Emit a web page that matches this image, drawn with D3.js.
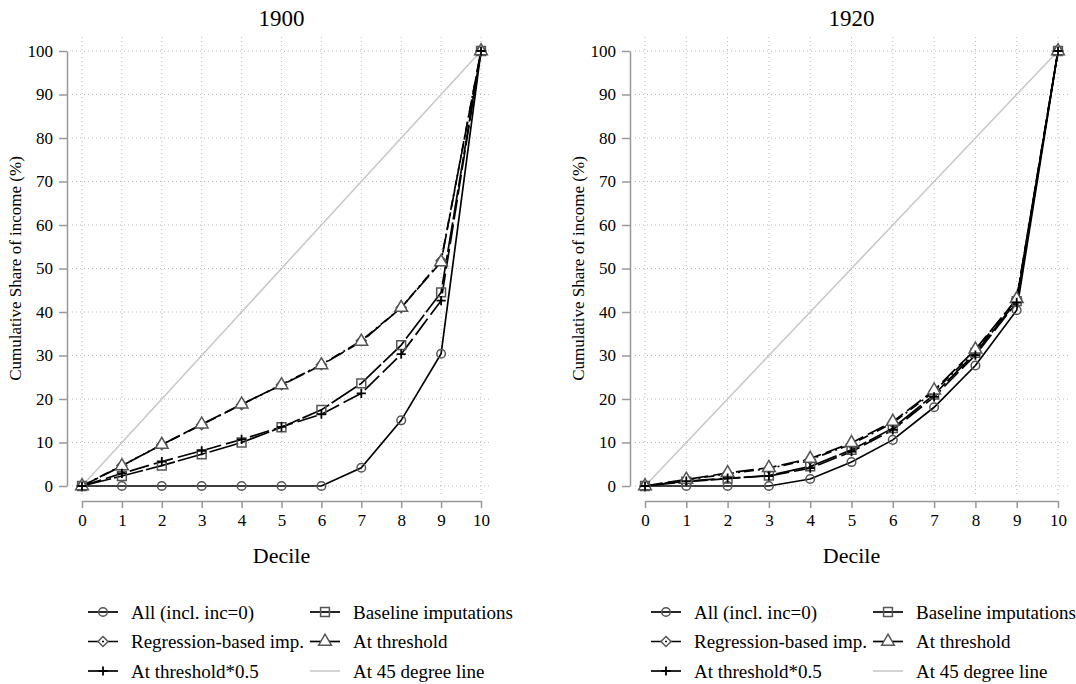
<!DOCTYPE html>
<html>
<head>
<meta charset="utf-8">
<script src="https://cdn.jsdelivr.net/npm/d3@7"></script>
<style>
  body { margin: 0; background: #fff; font-family: 'Liberation Serif'; }
</style>
</head>
<body>
<svg id="chart" width="1076" height="684"></svg>
<script>
// categories and ticks
const deciles = [0, 1, 2, 3, 4, 5, 6, 7, 8, 9, 10];
const yTicks = [0, 10, 20, 30, 40, 50, 60, 70, 80, 90, 100];
const seriesNames = ["All (incl. inc=0)", "Baseline imputations", "Regression-based imp.",
                     "At threshold", "At threshold*0.5", "At 45 degree line"];

// cumulative share of income (%)
const all1900  = [0, 0, 0, 0, 0, 0, 0, 4.2, 15.1, 30.4, 100];
const base1900 = [0, 2.3, 4.7, 7.3, 10.0, 13.5, 17.5, 23.6, 32.4, 44.5, 100];
const regr1900 = [0, 4.7, 9.5, 14.1, 18.7, 23.3, 27.9, 33.4, 41.0, 51.8, 100];
const thr1900  = [0, 4.6, 9.5, 14.2, 18.8, 23.2, 27.8, 33.2, 41.0, 51.5, 100];
const half1900 = [0, 2.9, 5.6, 8.1, 10.7, 13.6, 16.5, 21.3, 30.3, 42.6, 100];

const all1920  = [0, 0, 0, 0, 1.6, 5.5, 10.6, 18.1, 27.7, 40.4, 100];
const base1920 = [0, 1.0, 1.7, 2.4, 4.5, 8.3, 13.3, 21.0, 30.6, 42.5, 100];
const regr1920 = [0, 1.4, 2.8, 4.0, 6.1, 9.6, 14.5, 21.7, 31.1, 43.0, 100];
const thr1920  = [0, 1.5, 3.0, 4.2, 6.3, 9.9, 14.8, 22.0, 31.4, 43.0, 100];
const half1920 = [0, 1.1, 1.8, 2.3, 4.1, 7.9, 12.9, 20.5, 30.1, 42.2, 100];

const line45 = [0, 10, 20, 30, 40, 50, 60, 70, 80, 90, 100];

// drawing styles, one per series
const styles = [
  { dash: null,       marker: "circle" },
  { dash: "30,3",     marker: "square" },
  { dash: "10,4,2,4", marker: "diamond" },
  { dash: "18,5",     marker: "triangle" },
  { dash: "20,5",     marker: "plus" }
];
const markerGray = "#555";

const svg = d3.select("#chart");

const panels = [
  { title: "1900", left: 82,  right: 481,  series: [all1900, base1900, regr1900, thr1900, half1900] },
  { title: "1920", left: 645, right: 1058, series: [all1920, base1920, regr1920, thr1920, half1920] }
];

function markerPath(type) {
  if (type === "circle") return d3.symbol(d3.symbolCircle, 58)();
  if (type === "square") return d3.symbol(d3.symbolSquare, 78)();
  if (type === "triangle") return d3.symbol(d3.symbolTriangle, 70)();
  if (type === "diamond") return "M0,-5L5,0L0,5L-5,0Z";
  return "M-4.6,0H4.6M0,-4.6V4.6";
}

function drawMarker(g, type, x, y) {
  let p = g.append("path")
    .attr("d", markerPath(type))
    .attr("transform", `translate(${x},${y})`);
  if (type === "plus") {
    p.attr("fill", "none").attr("stroke", "#000").attr("stroke-width", 1.8);
  } else {
    p.attr("fill", type === "triangle" ? "#fff" : "none")
      .attr("stroke", markerGray).attr("stroke-width", 1.5);
  }
}

function addText(parent, str, size) {
  return parent.append("text")
    .attr("font-family", "Liberation Serif")
    .style("font-family", "'Liberation Serif'")
    .style("font-size", size + "px")
    .text(str);
}

function drawPanel(panel) {
  let x = d3.scaleLinear().domain([0, 10]).range([panel.left, panel.right]);
  let y = d3.scaleLinear().domain([0, 100]).range([486, 51]);
  let g = svg.append("g");

  // Grid
  g.append("g").selectAll("line").data(yTicks).enter().append("line")
    .attr("x1", x(0) - 10).attr("x2", x(10) + 11)
    .attr("y1", d => y(d)).attr("y2", d => y(d))
    .attr("stroke", "#bbb").attr("stroke-width", 1).attr("stroke-dasharray", "1,3");
  g.append("g").selectAll("line").data(deciles).enter().append("line")
    .attr("x1", d => x(d)).attr("x2", d => x(d))
    .attr("y1", y(100) - 14).attr("y2", y(0) + 9)
    .attr("stroke", "#bbb").attr("stroke-width", 1).attr("stroke-dasharray", "1,3");

  // Axes
  let yAxis = g.append("g")
    .attr("transform", `translate(${x(0) - 15},0)`)
    .call(d3.axisLeft(y).tickValues(yTicks).tickSize(8).tickSizeOuter(0).tickPadding(6));
  let xAxis = g.append("g")
    .attr("transform", `translate(0,${y(0) + 15})`)
    .call(d3.axisBottom(x).tickValues(deciles).tickSize(7).tickSizeOuter(0).tickPadding(6));
  [yAxis, xAxis].forEach(a => {
    a.attr("font-family", null).attr("font-size", null);
    a.select(".domain").attr("stroke", "#999").attr("stroke-width", 1.5);
    a.selectAll(".tick line").attr("stroke", "#999").attr("stroke-width", 1.5);
    a.selectAll(".tick text").attr("fill", "#000")
      .style("font-family", "'Liberation Serif'").style("font-size", "17px");
  });

  // 45 degree line
  let lineGen = d3.line().x((d, i) => x(deciles[i])).y(d => y(d));
  g.append("path").datum(line45)
    .attr("d", lineGen).attr("fill", "none")
    .attr("stroke", "#c8c8c8").attr("stroke-width", 1.6);

  // Series lines
  panel.series.forEach((vals, k) => {
    g.append("path").datum(vals)
      .attr("d", lineGen).attr("fill", "none")
      .attr("stroke", "#000").attr("stroke-width", 1.7)
      .attr("stroke-dasharray", styles[k].dash);
  });

  // Markers
  panel.series.forEach((vals, k) => {
    vals.forEach((v, i) => drawMarker(g, styles[k].marker, x(deciles[i]), y(v)));
  });

  // Titles and labels
  addText(g, panel.title, 23)
    .attr("x", (x(0) + x(10)) / 2).attr("y", 26)
    .attr("text-anchor", "middle");
  addText(g, "Decile", 22)
    .attr("x", (x(0) + x(10)) / 2).attr("y", 563)
    .attr("text-anchor", "middle");
  addText(g, "Cumulative Share of income (%)", 17)
    .attr("transform", `translate(${x(0) - 61},${(y(0) + y(100)) / 2}) rotate(-90)`)
    .attr("text-anchor", "middle");

  // Legend
  let legend = g.append("g");
  seriesNames.forEach((name, k) => {
    let col = k % 2, row = Math.floor(k / 2);
    let tx = x(0) + 49 + col * 222;
    let cx = tx - 28;
    let ly = 612 + row * 29.5;
    let sample = legend.append("line")
      .attr("x1", cx - 15).attr("x2", cx + 15)
      .attr("y1", ly).attr("y2", ly);
    if (k < 5) {
      sample.attr("stroke", "#000").attr("stroke-width", 1.7)
        .attr("stroke-dasharray", k === 2 ? "10,4,2,4" : null);
      drawMarker(legend, styles[k].marker, cx, ly);
    } else {
      sample.attr("stroke", "#c8c8c8").attr("stroke-width", 1.6);
    }
    addText(legend, name, 19)
      .attr("x", tx).attr("y", ly).attr("dy", "0.35em");
  });
}

panels.forEach(drawPanel);
</script>
</body>
</html>
